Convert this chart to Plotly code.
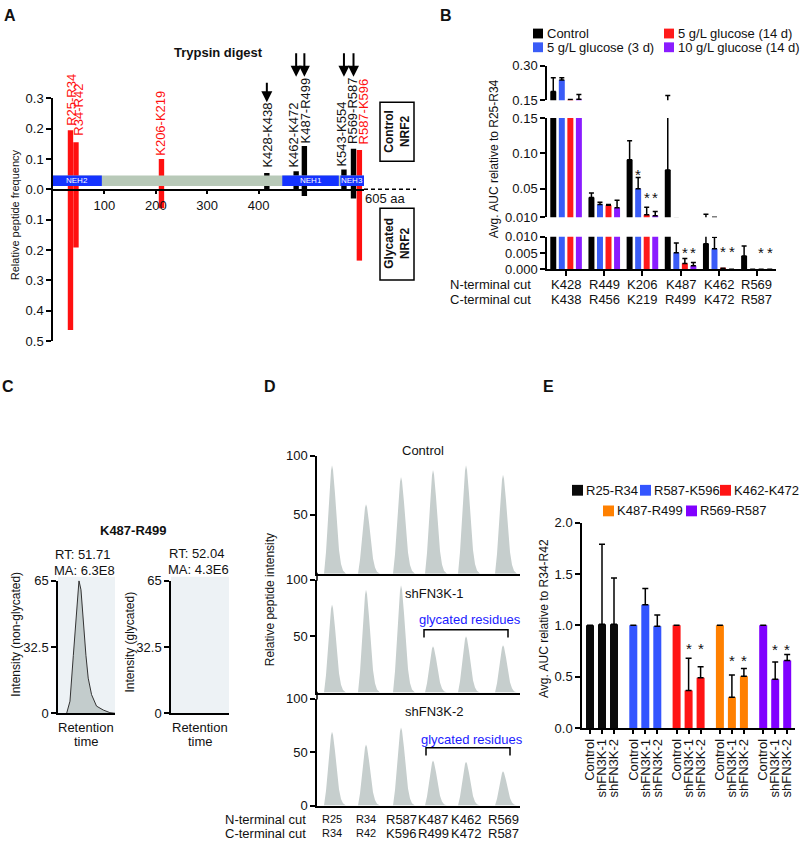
import plotly.graph_objects as go

W, H = 800, 846
FONT = "Arial, Liberation Sans, Helvetica, sans-serif"
TXT = "#111111"

# ---------------- DATA ----------------
# Panel A: peptide frequencies along NRF2 (residue positions read from the axis)
a_peptides = ["R25-R34", "R34-R42", "K206-K219", "K428-K438", "K462-K472",
              "K487-R499", "K543-K554", "R569-R587", "R587-K596"]
a_residue = [34, 44.7, 211, 416, 473, 489, 566, 584.6, 596]
a_control = [0.195, 0.155, 0.100, 0.054, 0.060, 0.143, 0.065, 0.134, 0.130]
a_glycated = [0.464, 0.192, 0.062, 0.0, 0.0, 0.022, 0.0, 0.030, 0.235]
a_red_label = [True, True, True, False, False, False, False, False, True]
a_arrow_peptides = ["K428-K438", "K462-K472", "K487-R499", "K543-K554", "R569-R587"]
a_domains = ["NEH2", "NEH1", "NEH3"]
a_domain_start = [0, 446, 559]
a_domain_end = [95, 556, 605]
a_length = 605
a_xticks = [100, 200, 300, 400]
a_yticks = [-0.5, -0.4, -0.3, -0.2, -0.1, 0.0, 0.1, 0.2, 0.3]

# Panel B
b_nterm = ["K428", "R449", "K206", "K487", "K462", "R569"]
b_cterm = ["K438", "R456", "K219", "R499", "K472", "R587"]
b_series = ["Control", "5 g/L glucose (3 d)", "5 g/L glucose (14 d)", "10 g/L glucose (14 d)"]
b_control = [0.189, 0.0377, 0.091, 0.0765, 0.0079, 0.0041]
b_control_err = [0.060, 0.0063, 0.027, 0.094, 0.0063, 0.0031]
b_glc3d = [0.239, 0.028, 0.050, 0.0051, 0.0063, 0.0]
b_glc3d_err = [0.009, 0.003, 0.016, 0.003, 0.0036, 0.0]
b_glc14d = [0.152, 0.027, 0.0136, 0.0018, 0.0003, 0.0]
b_glc14d_err = [0.002, 0.001, 0.0104, 0.0015, 0.0, 0.0]
b_glc10g = [0.155, 0.0235, 0.012, 0.0011, 0.0, 0.0]
b_glc10g_err = [0.020, 0.0105, 0.006, 0.001, 0.0, 0.0]
b_star_group = ["K206", "K206", "K206", "K487", "K487", "K462", "K462", "R569", "R569"]
b_star_series = [1, 2, 3, 2, 3, 2, 3, 2, 3]
b_star_value = [0.075, 0.042, 0.042, 0.006, 0.006, 0.0064, 0.0064, 0.006, 0.006]

# Panel C: extracted ion chromatogram of K487-R499
c_time = [15.2, 21, 26.9, 32.7, 36.8, 40.3, 44.4, 49, 53, 58.9, 67.6, 79.3, 91, 100]
c_nonglycated = [0, 5.9, 28.4, 52.5, 65, 60.5, 44.5, 28.4, 17.2, 9.1, 3.5, 1.6, 0.3, 0]

# Panel D
d_nterm = ["R25", "R34", "R587", "K487", "K462", "R569"]
d_cterm = ["R34", "R42", "K596", "R499", "K472", "R587"]
d_retention = [15, 49, 84, 116, 149, 186]
d_conditions = ["Control", "shFN3K-1", "shFN3K-2"]
d_control = [92, 59, 82, 88, 92, 84]
d_sh1 = [78, 91, 95, 41, 50, 42]
d_sh2 = [69, 57, 73, 42, 41, 32]
d_peak_dt = [-8, -6, -4, -2, -1, 0, 1, 3, 5, 7, 9, 11, 14]
d_peak_rel = [0, 0.2, 0.5, 0.82, 0.95, 1.0, 0.96, 0.74, 0.45, 0.22, 0.09, 0.03, 0]

# Panel E
e_groups = ["R25-R34", "R587-K596", "K462-K472", "K487-R499", "R569-R587"]
e_conditions = ["Control", "shFN3K-1", "shFN3K-2"]
e_r25 = [1.0, 1.01, 1.01]
e_r25_err = [0, 0.78, 0.45]
e_r587 = [1.0, 1.2, 0.99]
e_r587_err = [0, 0.16, 0.11]
e_k462 = [1.0, 0.364, 0.49]
e_k462_err = [0, 0.316, 0.106]
e_k487 = [1.0, 0.30, 0.504]
e_k487_err = [0, 0.217, 0.076]
e_r569 = [1.0, 0.475, 0.657]
e_r569_err = [0, 0.169, 0.058]
e_star_value = [None, None, 0.8, 0.69, 0.79]

# ---------------- HELPERS ----------------
def X(p): return p / W
def Y(p): return 1 - p / H
def dx(a, b): return [a / W, b / W]
def dy(top, bottom): return [1 - bottom / H, 1 - top / H]

annotations, shapes = [], []

def text(x, y, s, size=13, color=TXT, bold=False, angle=0, xanchor="center",
         yanchor="middle", xref="paper", yref="paper", xshift=0, yshift=0):
    if bold:
        s = "<b>" + s + "</b>"
    annotations.append(dict(
        x=X(x) if xref == "paper" else x, y=Y(y) if yref == "paper" else y,
        xref=xref, yref=yref, text=s, showarrow=False, textangle=angle,
        font=dict(size=size, color=color, family=FONT),
        xanchor=xanchor, yanchor=yanchor, xshift=xshift, yshift=yshift))

def rect(x0, y0, x1, y1, fill=None, line=None, xref="paper", yref="paper", layer="above", lw=1.5):
    shapes.append(dict(type="rect", xref=xref, yref=yref,
                       x0=X(x0) if xref == "paper" else x0, x1=X(x1) if xref == "paper" else x1,
                       y0=Y(y0) if yref == "paper" else y0, y1=Y(y1) if yref == "paper" else y1,
                       fillcolor=fill if fill else "rgba(0,0,0,0)",
                       line=dict(color=line if line else "rgba(0,0,0,0)", width=lw if line else 0),
                       layer=layer))

def pline(x0, y0, x1, y1, width=1.5, color="black", dash=None):
    shapes.append(dict(type="line", xref="paper", yref="paper", x0=X(x0), y0=Y(y0),
                       x1=X(x1), y1=Y(y1), line=dict(color=color, width=width, dash=dash)))

def axis(**kw):
    d = dict(showgrid=False, zeroline=False, showline=True, linecolor="black", linewidth=1.5,
             ticks="outside", ticklen=5, tickwidth=1.5, tickcolor="black", fixedrange=True,
             tickfont=dict(size=13, color=TXT, family=FONT))
    d.update(kw)
    return d

fig = go.Figure()
layout = {}

# ---------------- PANEL A ----------------
RED = "#ff1010"
a_colors = [RED if r else "#000000" for r in a_red_label]
fig.add_trace(go.Bar(x=a_residue + a_residue, y=a_control + [-v for v in a_glycated],
                     width=10.5, marker=dict(color=a_colors + a_colors, line=dict(width=0)),
                     xaxis="x", yaxis="y"))
layout["xaxis"] = axis(domain=dx(53, 364), range=[0, a_length], anchor="free", position=Y(186),
                       tickvals=a_xticks, ticklen=4)
layout["yaxis"] = axis(domain=dy(93, 340), range=[-0.5, 0.3], anchor="x", tickvals=a_yticks,
                       ticktext=["%.1f" % abs(v) for v in a_yticks])
# protein band
shapes.append(dict(type="rect", xref="x", yref="y", x0=0, x1=a_length, y0=0.011, y1=0.046,
                   fillcolor="#b8c9b8", line=dict(width=0)))
for name, s0, s1 in zip(a_domains, a_domain_start, a_domain_end):
    shapes.append(dict(type="rect", xref="x", yref="y", x0=s0, x1=s1, y0=0.011, y1=0.046,
                       fillcolor="#1433ff", line=dict(width=0)))
    text((s0 + s1) / 2, 0.0285, name, size=8, color="white", xref="x", yref="y")
# dashed continuation of zero line
shapes.append(dict(type="line", xref="paper", yref="y", x0=X(364), x1=X(416), y0=0, y1=0,
                   line=dict(color="black", width=1.5, dash="4px,3px")))
text(363, 195, "605 aa", xanchor="left")
# peptide labels
lab_x = [72, 79, 161, 268, 294, 305, 342, 353, 363]
lab_bottom = [123, 133, 154, 166, 166, 141, 165, 142, 142]
for p, r, lx, lb in zip(a_peptides, a_red_label, lab_x, lab_bottom):
    text(lx, lb, p, color=RED if r else TXT, angle=-90, yanchor="bottom")
# arrows
for i, p in enumerate(a_arrow_peptides):
    xr = a_residue[a_peptides.index(p)]
    tip, tail = (97, 76) if i == 0 else (71, 46)
    annotations.append(dict(x=xr, y=Y(tip), xref="x", yref="paper", text="", showarrow=True,
                            ax=0, ay=-(tip - tail), arrowhead=2, arrowsize=1.1, arrowwidth=2,
                            arrowcolor="black"))
text(218, 46, "Trypsin digest", bold=True)
rect(380, 97, 414, 157, line="black")
text(397, 127, "Control<br>NRF2", size=12, bold=True, angle=-90)
rect(380, 205, 414, 278, line="black")
text(397, 241, "Glycated<br>NRF2", size=12, bold=True, angle=-90)
text(15, 212, "Relative peptide frequency", size=11, angle=-90)
text(10, 9, "A", size=16, bold=True)

# ---------------- PANEL B ----------------
b_cats = [n + "/" + c for n, c in zip(b_nterm, b_cterm)]
b_colors = ["#000000", "#3a5cf7", "#ff1a1a", "#8a1cff"]
b_vals = [b_control, b_glc3d, b_glc14d, b_glc10g]
b_errs = [b_control_err, b_glc3d_err, b_glc14d_err, b_glc10g_err]
for k, (xa, ya) in enumerate([("x2", "y2"), ("x3", "y3"), ("x4", "y4")]):
    for i in range(4):
        fig.add_trace(go.Bar(
            x=b_cats, y=b_vals[i], name=b_series[i], marker=dict(color=b_colors[i], line=dict(width=0)),
            error_y=dict(type="data", symmetric=False,
                         array=[e if (e > 0 or v > 0.1) else None for e, v in zip(b_errs[i], b_vals[i])],
                         arrayminus=[0] * 6, color="black", thickness=1.5, width=2.5),
            xaxis=xa, yaxis=ya))
bx = dict(domain=dx(547, 776), type="category", categoryorder="array", categoryarray=b_cats)
layout["xaxis2"] = axis(**bx, anchor="y2", visible=False)
layout["xaxis3"] = axis(**bx, anchor="y3", visible=False)
layout["xaxis4"] = axis(**bx, anchor="y4", showticklabels=False)
layout["yaxis2"] = axis(domain=dy(60, 95), range=[0.15, 0.30], anchor="x2",
                        tickvals=[0.15, 0.30], ticktext=["0.15", "0.30"])
layout["yaxis3"] = axis(domain=dy(113, 214), range=[0.01, 0.15], anchor="x3",
                        tickvals=[0.01, 0.05, 0.10, 0.15], ticktext=["0.010", "0.05", "0.10", "0.15"])
layout["yaxis4"] = axis(domain=dy(234, 267), range=[0, 0.01], anchor="x4",
                        tickvals=[0, 0.005, 0.01], ticktext=["0.000", "0.005", "0.010"])
b_off = [-12.75, -4.25, 4.25, 12.75]
for g, s, v in zip(b_star_group, b_star_series, b_star_value):
    cat = b_cats[b_nterm.index(g)]
    yr = "y2" if v > 0.15 else ("y3" if v > 0.01 else "y4")
    text(cat, v, "*", size=15, xref="x4", yref=yr, xshift=b_off[s], yshift=-3)
for n, c, cat in zip(b_nterm, b_cterm, b_cats):
    text(cat, 283, n, xref="x4")
    text(cat, 298, c, xref="x4")
text(533, 283, "N-terminal cut", xanchor="right")
text(533, 298, "C-terminal cut", xanchor="right")
text(494, 155, "Avg. AUC relative to R25-R34", size=12, angle=-90)
leg_b = [(533, 27), (533, 41), (664, 27), (664, 41)]
for (lx, ly), col, name in zip(leg_b, b_colors, b_series):
    rect(lx, ly - 5, lx + 10, ly + 5, fill=col)
    text(lx + 12, ly, name, xanchor="left")
text(446, 9, "B", size=16, bold=True)

# ---------------- PANEL C ----------------
rect(58, 580, 115, 719, fill="#edf2f5", layer="below")
rect(171, 580, 229, 719, fill="#edf2f5", layer="below")
fig.add_trace(go.Scatter(x=c_time, y=c_nonglycated, mode="lines", fill="tozeroy",
                         fillcolor="#c3cccc", line=dict(color="#333333", width=1),
                         xaxis="x5", yaxis="y5"))
fig.add_trace(go.Scatter(x=[], y=[], mode="lines", xaxis="x6", yaxis="y6"))
for xa, ya, d in [("xaxis5", "yaxis5", (58, 115)), ("xaxis6", "yaxis6", (171, 229))]:
    layout[xa] = axis(domain=dx(*d), range=[0, 100], anchor=ya.replace("axis", ""),
                      ticks="", showticklabels=False)
    layout[ya] = axis(domain=dy(584, 719), range=[0, 65], anchor=xa.replace("axis", ""),
                      tickvals=[0, 32.5, 65], ticktext=["0", "32.5", "65"])
text(133, 533, "K487-R499", bold=True)
text(82, 557, "RT: 51.71")
text(84, 574, "MA: 6.3E8")
text(196, 556, "RT: 52.04")
text(198, 573, "MA: 4.3E6")
text(16, 639, "Intensity (non-glycated)", size=12, angle=-90)
text(130, 647, "Intensity (glycated)", size=12, angle=-90)
text(86, 733, "Retention")
text(86, 748, "time")
text(200, 733, "Retention")
text(200, 748, "time")
text(8, 386, "C", size=16, bold=True)

# ---------------- PANEL D ----------------
d_doms = [(457, 577), (583, 698), (704, 813)]
d_heights = [d_control, d_sh1, d_sh2]
for k, (dom, hts) in enumerate(zip(d_doms, d_heights)):
    xs, ys = [], []
    for c, h in zip(d_retention, hts):
        for o, f in zip(d_peak_dt, d_peak_rel):
            xs.append(c + o)
            ys.append(h * f)
    xa, ya = "x%d" % (7 + k), "y%d" % (7 + k)
    fig.add_trace(go.Scatter(x=xs, y=ys, mode="lines", fill="tozeroy", fillcolor="#c6cecd",
                             line=dict(width=0, color="rgba(0,0,0,0)"), xaxis=xa, yaxis=ya))
    layout["xaxis%d" % (7 + k)] = axis(domain=dx(317, 520), range=[0, 203], anchor=ya,
                                       ticks="", showticklabels=False)
    tv = [0, 50, 100] if k == 2 else [50, 100]
    layout["yaxis%d" % (7 + k)] = axis(domain=dy(*dom), range=[0, 100], anchor=xa, tickvals=tv)
pline(317, 576, 317, 584)
pline(317, 697, 317, 705)
text(423, 452, d_conditions[0])
text(403, 597, d_conditions[1], xanchor="left")
text(403, 717, d_conditions[2], xanchor="left")
BLUE_T = "#1a1aff"
text(417, 624, "glycated residues", color=BLUE_T, xanchor="left")
text(419, 746, "glycated residues", color=BLUE_T, xanchor="left")
for (x0, x1, yb) in [(424, 508, 634), (426, 510, 754)]:
    shapes.append(dict(type="path", xref="paper", yref="paper",
                       path="M %f %f L %f %f L %f %f L %f %f" % (X(x0), Y(yb + 8), X(x0), Y(yb),
                                                                 X(x1), Y(yb), X(x1), Y(yb + 8)),
                       line=dict(color="black", width=1.5)))
for i, (n, c) in enumerate(zip(d_nterm, d_cterm)):
    sz = 11 if i < 2 else 13
    text(d_retention[i], 827, n, size=sz, xref="x9")
    text(d_retention[i], 841, c, size=sz, xref="x9")
text(308, 827, "N-terminal cut", xanchor="right")
text(308, 841, "C-terminal cut", xanchor="right")
text(270, 604, "Relative peptide intensity", size=12, angle=-90)
text(270, 386, "D", size=16, bold=True)

# ---------------- PANEL E ----------------
e_colors = ["#0a0a0a", "#3355ff", "#ff1414", "#ff8000", "#8000ff"]
e_vals = [e_r25, e_r587, e_k462, e_k487, e_r569]
e_errs = [e_r25_err, e_r587_err, e_k462_err, e_k487_err, e_r569_err]
e_x, e_y, e_e, e_c, e_t = [], [], [], [], []
for g in range(5):
    for i in range(3):
        e_x.append(8 + g * 43.3 + i * 12)
        e_y.append(e_vals[g][i])
        e_e.append(e_errs[g][i] if e_errs[g][i] > 0 else None)
        e_c.append(e_colors[g])
        e_t.append(e_conditions[i])
fig.add_trace(go.Bar(x=e_x, y=e_y, width=8, marker=dict(color=e_c, line=dict(width=0)),
                     error_y=dict(type="data", symmetric=False, array=e_e, arrayminus=[0] * 15,
                                  color="black", thickness=1.5, width=3),
                     xaxis="x10", yaxis="y10"))
layout["xaxis10"] = axis(domain=dx(582, 795), range=[0, 213], anchor="y10", tickvals=e_x,
                         ticktext=e_t, tickangle=-90, ticklen=4)
layout["yaxis10"] = axis(domain=dy(525, 734), range=[0, 2], anchor="x10",
                         tickvals=[0, 0.5, 1, 1.5, 2], ticktext=["0.0", "0.5", "1.0", "1.5", "2.0"])
for g, sv in enumerate(e_star_value):
    if sv is None:
        continue
    for i in (1, 2):
        text(8 + g * 43.3 + i * 12, sv, "*", size=15, xref="x10", yref="y10", yshift=-3)
leg_e = [(572, 492), (640, 492), (720, 492), (603, 513), (686, 513)]
for (lx, ly), col, name in zip(leg_e, e_colors, e_groups):
    rect(lx, ly - 5.5, lx + 11, ly + 5.5, fill=col)
    text(lx + 12, ly, name, xanchor="left")
text(544, 623, "Avg. AUC relative to R34-R42", size=12, angle=-90)
text(548, 386, "E", size=16, bold=True)

fig.update_layout(
    width=W, height=H, margin=dict(l=0, r=0, t=0, b=0),
    paper_bgcolor="white", plot_bgcolor="rgba(0,0,0,0)", showlegend=False,
    barmode="group", bargap=0.105, bargroupgap=0.3,
    font=dict(family=FONT, color=TXT, size=13),
    annotations=annotations, shapes=shapes, **layout)

fig.write_html("out.html", config={"displayModeBar": False},
               post_script="document.body.style.margin='0px';document.body.style.overflow='hidden';")
